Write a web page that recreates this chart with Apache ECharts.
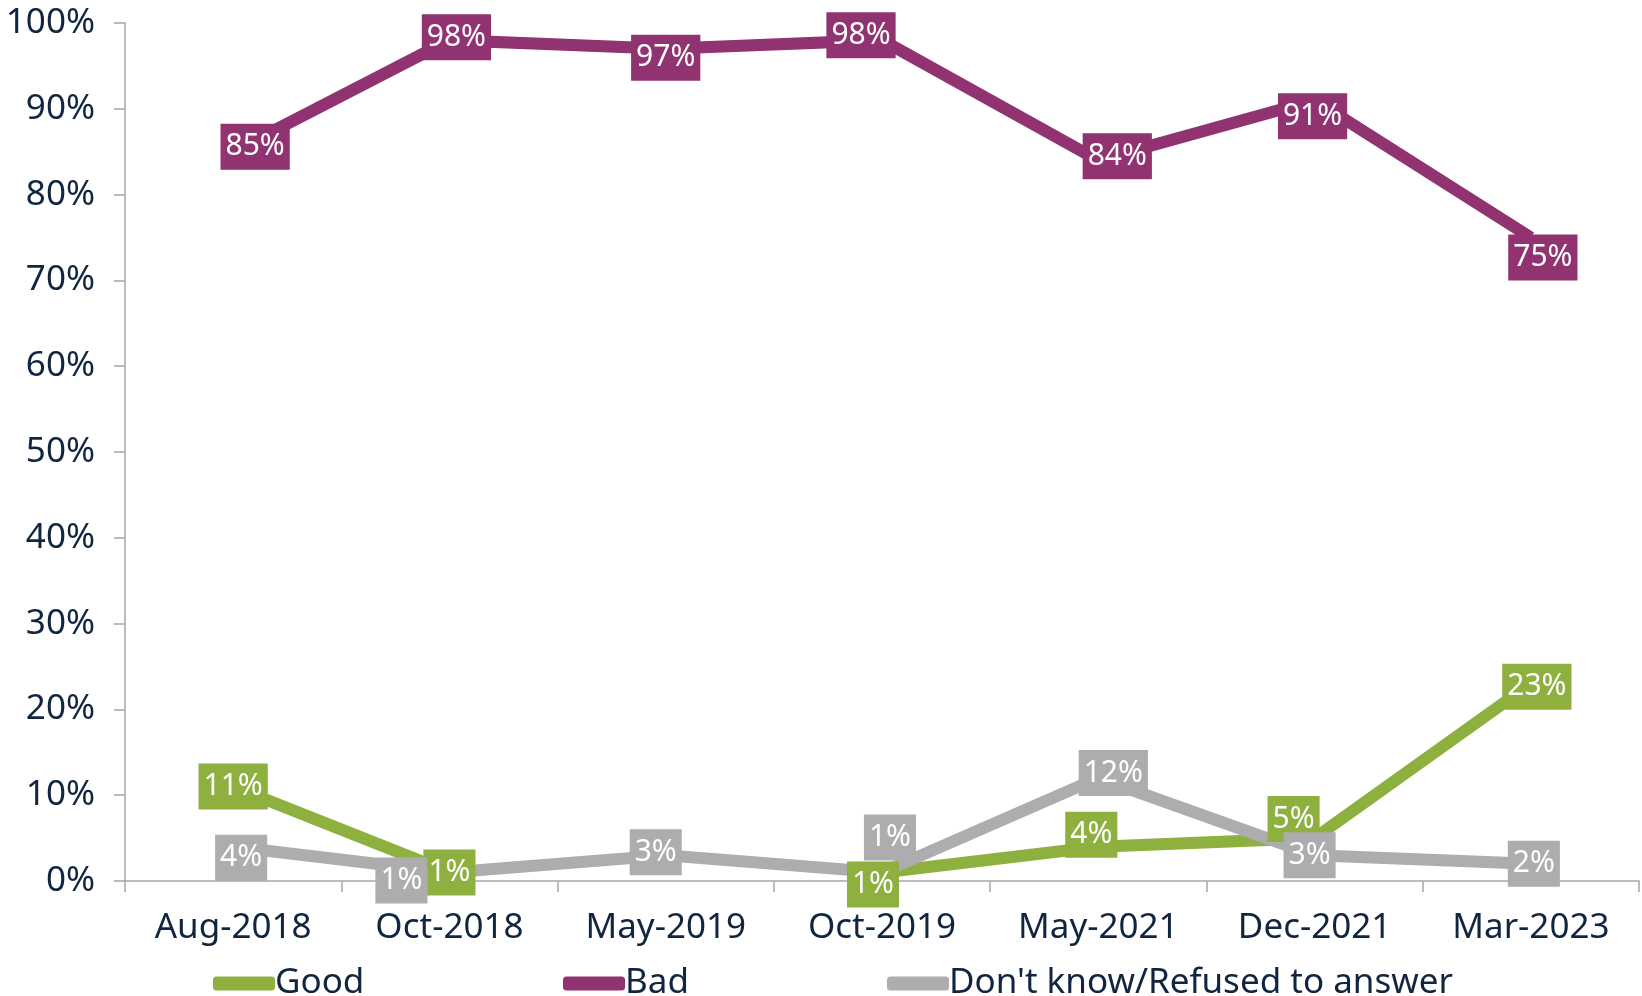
<!DOCTYPE html>
<html>
<head>
<meta charset="utf-8">
<script src="https://cdn.jsdelivr.net/npm/echarts@6/dist/echarts.min.js"></script>
<style>
  html, body { margin: 0; padding: 0; background: #ffffff; }
  #chart { width: 1642px; height: 996px; }
</style>
</head>
<body>
<div id="chart"></div>
<script>
// Survey waves and answer shares (%)
const categories = ['Aug-2018', 'Oct-2018', 'May-2019', 'Oct-2019', 'May-2021', 'Dec-2021', 'Mar-2023'];
const goodValues = [11, 1, null, 1, 4, 5, 23];
const badValues = [85, 98, 97, 98, 84, 91, 75];
const dontKnowValues = [4, 1, 3, 1, 12, 3, 2];
const seriesNames = ['Good', 'Bad', "Don't know/Refused to answer"];

// Small nudges that keep the value boxes from covering each other
const goodNudge = [[0, 0], [0, 0], [0, 0], [-9, 12], [-7, -12], [-21, -19], [6, 3]];
const badNudge = [[22, -5], [7, -3], [0, 9], [-21, -5], [19, -4], [-2, 16], [12, 20]];
const dontKnowNudge = [[8, 11], [-48, 8], [-10, -3], [8, -35], [15, -5], [-5, 0], [3, 0]];

const COLORS = { good: '#8db03e', bad: '#913371', dk: '#adadaf' };
const TEXT = '#10253f';
const AXIS = '#a6a6a6';
const FONT = '"Noto Sans", sans-serif';

function points(values, nudges) {
  return values.map((v, i) => v == null ? '-' : { value: v, label: { offset: nudges[i] } });
}

function lineSeries(name, values, nudges, color) {
  return {
    name: name,
    type: 'line',
    data: points(values, nudges),
    symbol: 'circle',
    symbolSize: 2,
    showSymbol: true,
    connectNulls: false,
    lineStyle: { color: color, width: 12, cap: 'butt', join: 'miter' },
    itemStyle: { color: color },
    label: {
      show: true,
      position: 'inside',
      formatter: p => p.value + '%',
      color: '#ffffff',
      fontFamily: FONT,
      fontSize: 30,
      backgroundColor: color,
      padding: [6, 5, 6, 5],
      lineHeight: 34
    }
  };
}

const legendBase = {
  icon: 'roundRect',
  itemWidth: 62,
  itemHeight: 14,
  top: 961,
  textStyle: { color: TEXT, fontFamily: FONT, fontSize: 35, padding: [0, 0, 0, -5] }
};

const chart = echarts.init(document.getElementById('chart'), null, { renderer: 'canvas' });
chart.setOption({
  backgroundColor: '#ffffff',
  animation: false,
  grid: { left: 125, right: 3, top: 23, bottom: 115, containLabel: false },
  legend: [
    Object.assign({}, legendBase, { left: 208, data: [seriesNames[0]] }),
    Object.assign({}, legendBase, { left: 558, data: [seriesNames[1]] }),
    Object.assign({}, legendBase, { left: 882, data: [seriesNames[2]] })
  ],
  xAxis: {
    type: 'category',
    data: categories,
    boundaryGap: true,
    axisLine: { show: true, lineStyle: { color: AXIS, width: 1.5 } },
    axisTick: { show: true, length: 11, inside: false, lineStyle: { color: AXIS, width: 1.5 } },
    axisLabel: { color: TEXT, fontFamily: FONT, fontSize: 35, margin: 30 },
    splitLine: { show: false }
  },
  yAxis: {
    type: 'value',
    min: 0,
    max: 100,
    interval: 10,
    axisLine: { show: true, lineStyle: { color: AXIS, width: 1.5 } },
    axisTick: { show: true, length: 11, inside: false, lineStyle: { color: AXIS, width: 1.5 } },
    axisLabel: { color: TEXT, fontFamily: FONT, fontSize: 35, margin: 30, formatter: '{value}%' },
    splitLine: { show: false }
  },
  series: [
    lineSeries(seriesNames[0], goodValues, goodNudge, COLORS.good),
    lineSeries(seriesNames[1], badValues, badNudge, COLORS.bad),
    lineSeries(seriesNames[2], dontKnowValues, dontKnowNudge, COLORS.dk)
  ]
});
</script>
</body>
</html>
